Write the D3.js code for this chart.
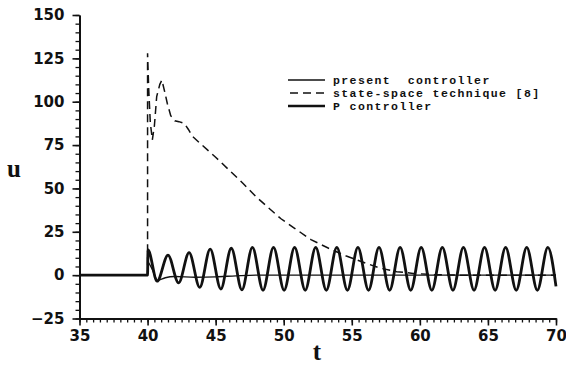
<!DOCTYPE html>
<meta charset="utf-8">
<head>
<title>u vs t</title>
<script src="https://d3js.org/d3.v7.min.js"></script>
<style>
  body { margin: 0; background: #fff; }
  .axis path, .axis line { stroke: #111; }
  .axis text { font-family: "DejaVu Sans", sans-serif; font-weight: bold; font-size: 15px; fill: #111; }
  .lbl { font-family: "Liberation Serif", serif; font-weight: bold; font-size: 25px; fill: #111; }
  .leg { font-family: "Liberation Mono", monospace; font-weight: bold; font-size: 11.5px; letter-spacing: 1.4px; fill: #111; }
</style>
</head>
<body>
<svg id="chart" width="566" height="365"></svg>
<script>
// present controller (thin solid)
var presT = [35, 40, 40.01, 40.3, 40.75, 41.3, 42, 43.5, 45, 46.5, 48, 70];
var presU = [0, 0, 7.5, 4, -3, -1.5, -0.8, -1.2, -1, -0.4, 0, 0];

// state-space technique [8] (dashed)
var ssT = [35, 40, 40, 40.08, 40.2, 40.35, 40.5, 40.67, 40.9, 41.05, 41.25, 41.45, 41.7, 42.0, 42.3, 42.7,
           43.0, 43.3, 44, 45, 46, 47, 48, 49, 49.8, 50.8, 52, 53.3, 54.6, 56, 57.1, 58.3, 59.5, 61, 63, 70];
var ssU = [0, 0, 128, 108, 88, 78, 86, 103, 110, 112.5, 106, 99, 92, 89, 88.5, 87.5,
           84, 80, 75, 68, 60.5, 53, 45, 38, 32.5, 27, 20.5, 15.5, 11, 7, 4, 2, 1, 0.3, 0, 0];

// P controller (thick) - read at peaks and troughs
var pT = [35, 40, 40.03, 40.7, 41.5, 42.28, 43.05, 43.83, 44.6, 45.38, 46.15, 46.93, 47.7, 48.48, 49.25,
          50.03, 50.8, 51.58, 52.35, 53.13, 53.9, 54.68, 55.45, 56.23, 57.0, 57.78, 58.55, 59.33, 60.1,
          60.88, 61.65, 62.43, 63.2, 63.98, 64.75, 65.53, 66.3, 67.08, 67.85, 68.63, 69.4, 70];
var pU = [0, 0, 14.5, -3.5, 11.5, -4.5, 13, -7, 15, -8, 15.5, -8.5, 16, -8.7, 16,
          -8.7, 16, -8.7, 16, -8.7, 16, -8.7, 16, -8.7, 16, -8.7, 16, -8.7, 16,
          -8.7, 16, -8.7, 16, -8.7, 16, -8.7, 16, -8.7, 16, -8.7, 16, -6.5];

var xTicks = [35, 40, 45, 50, 55, 60, 65, 70];
var yTicks = [-25, 0, 25, 50, 75, 100, 125, 150];
var legendNames = ["present  controller", "state-space technique [8]", "P controller"];

var svg = d3.select("#chart");

var x = d3.scaleLinear().domain([35, 70]).range([79.5, 556]);
var y = d3.scaleLinear().domain([-25, 150]).range([318.5, 15]);

// minor ticks
var xMinor = d3.range(35, 70.01, 0.5);
var yMinor = d3.range(-25, 150.01, 5);

svg.append("g").attr("class", "axis")
  .attr("transform", "translate(0," + y(-25) + ")")
  .call(d3.axisBottom(x).tickValues(xMinor).tickSize(4).tickFormat("").tickSizeOuter(0))
  .call(g => g.selectAll("line").attr("stroke-width", 1.3));
svg.append("g").attr("class", "axis")
  .attr("transform", "translate(" + x(35) + ",0)")
  .call(d3.axisLeft(y).tickValues(yMinor).tickSize(4).tickFormat("").tickSizeOuter(0))
  .call(g => g.selectAll("line").attr("stroke-width", 1.3));

// major ticks
var xAxis = svg.append("g").attr("class", "axis")
  .attr("transform", "translate(0," + y(-25) + ")")
  .call(d3.axisBottom(x).tickValues(xTicks).tickSize(7).tickPadding(5).tickSizeOuter(0));
xAxis.select(".domain").attr("stroke-width", 2);
xAxis.selectAll("line").attr("stroke-width", 1.6);

var yAxis = svg.append("g").attr("class", "axis")
  .attr("transform", "translate(" + x(35) + ",0)")
  .call(d3.axisLeft(y).tickValues(yTicks).tickSize(7).tickPadding(8).tickSizeOuter(0)
    .tickFormat(d => d < 0 ? "\u2212" + Math.abs(d) : d));
yAxis.select(".domain").attr("stroke-width", 2);
yAxis.selectAll("line").attr("stroke-width", 1.6);

// axis titles
svg.append("text").attr("class", "lbl").attr("x", 14).attr("y", 177)
  .attr("text-anchor", "middle").text("u");
svg.append("text").attr("class", "lbl").attr("x", 317).attr("y", 360)
  .attr("text-anchor", "middle").text("t");

function zip(a, b) { return a.map((d, i) => [d, b[i]]); }

var lineMono = d3.line().x(d => x(d[0])).y(d => y(d[1])).curve(d3.curveMonotoneX);
var lineLin = d3.line().x(d => x(d[0])).y(d => y(d[1]));

// dashed
svg.append("path").datum(zip(ssT, ssU))
  .attr("d", lineLin).attr("fill", "none").attr("stroke", "#111")
  .attr("stroke-width", 1.5).attr("stroke-dasharray", "8,5");

// P controller
svg.append("path").datum(zip(pT, pU))
  .attr("d", lineMono).attr("fill", "none").attr("stroke", "#111")
  .attr("stroke-width", 2.8).attr("stroke-linejoin", "round");

// present controller
svg.append("path").datum(zip(presT, presU))
  .attr("d", lineMono).attr("fill", "none").attr("stroke", "#111")
  .attr("stroke-width", 1.4);

// legend
var legY = [80, 93, 106];
var leg = svg.append("g");
leg.append("line").attr("x1", 288).attr("x2", 325).attr("y1", legY[0]).attr("y2", legY[0])
  .attr("stroke", "#111").attr("stroke-width", 1.4);
leg.append("line").attr("x1", 290).attr("x2", 325).attr("y1", legY[1]).attr("y2", legY[1])
  .attr("stroke", "#111").attr("stroke-width", 1.5).attr("stroke-dasharray", "8,5");
leg.append("line").attr("x1", 288).attr("x2", 325).attr("y1", legY[2]).attr("y2", legY[2])
  .attr("stroke", "#111").attr("stroke-width", 2.6);
leg.selectAll("text").data(legendNames).enter().append("text")
  .attr("class", "leg").attr("x", 333).attr("y", (d, i) => legY[i] + 4)
  .attr("xml:space", "preserve").style("white-space", "pre")
  .text(d => d);
</script>
</body>
